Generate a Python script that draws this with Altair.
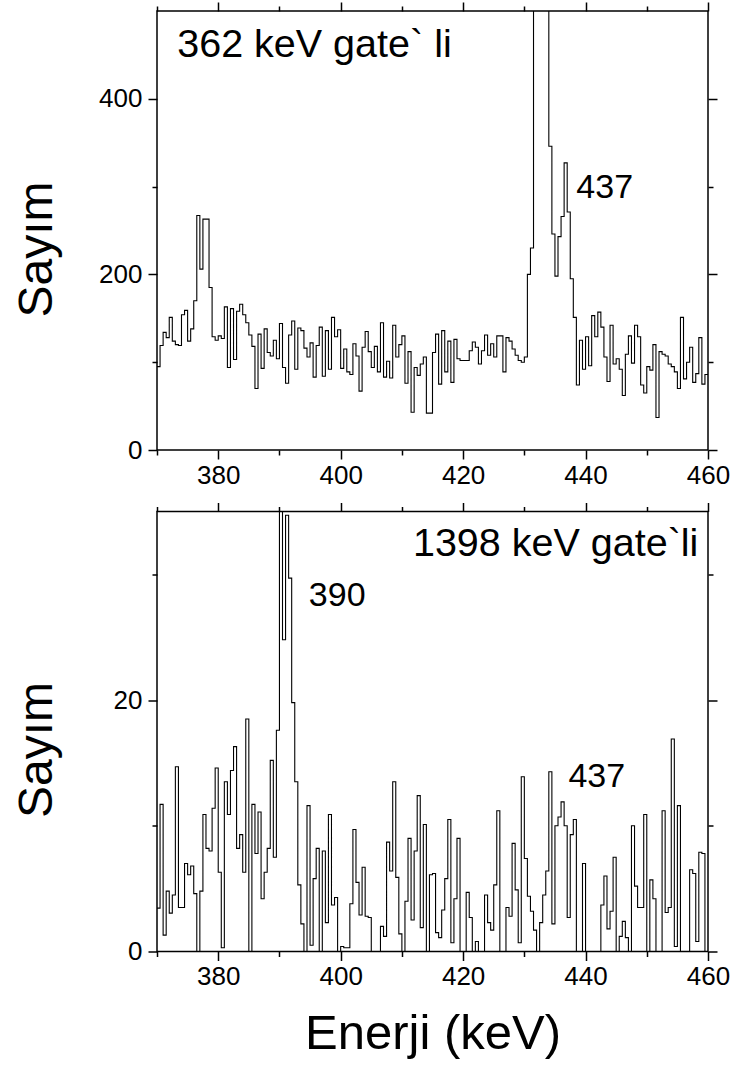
import altair as alt
import pandas as pd

FONT = "Liberation Sans"

# ---- data -------------------------------------------------------------
BIN_START = 370.0
BIN_WIDTH = 0.5

top_counts = [
    95, 119, 134, 128, 151, 124, 120, 119, 154, 159,
    124, 138, 170, 267, 206, 263, 263, 185, 129, 125,
    130, 127, 163, 94, 161, 103, 158, 166, 154, 145,
    131, 118, 70, 132, 93, 138, 111, 107, 125, 104,
    144, 94, 76, 131, 147, 92, 139, 136, 116, 106,
    122, 83, 119, 140, 84, 136, 92, 151, 129, 137,
    93, 115, 89, 86, 121, 107, 67, 117, 135, 112,
    94, 118, 89, 145, 83, 101, 82, 142, 106, 120,
    130, 76, 112, 43, 94, 85, 98, 106, 42, 42,
    111, 132, 75, 136, 89, 124, 77, 126, 104, 102,
    102, 102, 113, 123, 117, 98, 113, 131, 108, 121,
    106, 130, 130, 89, 128, 124, 115, 108, 102, 100,
    106, 200, 230, 650, 1400, 1800, 1200, 700, 346, 246,
    198, 243, 266, 327, 271, 195, 151, 74, 125, 92,
    129, 96, 153, 129, 157, 140, 106, 78, 142, 98,
    104, 92, 62, 109, 130, 99, 142, 129, 74, 65,
    95, 91, 120, 37, 112, 109, 107, 98, 95, 89,
    70, 151, 81, 100, 117, 77, 87, 128, 75, 86,
]

bottom_counts = [
    3.45, 11.7, 1.3, 4.8, 3.05, 4.5, 14.7, 3.5, 3.5, 7.0,
    6.1, 6.8, 4.6, 0, 4.8, 10.9, 8.2, 8.0, 11.4, 14.6,
    6.3, 0.3, 13.5, 10.9, 14.4, 16.3, 8.2, 9.3, 6.3, 18.5,
    0, 11.7, 7.8, 11.1, 4.2, 6.3, 8.2, 15.2, 7.5, 17.6,
    40, 24.8, 34.7, 29.7, 19.8, 13.5, 5.3, 2.2, 0, 11.6,
    0.5, 5.8, 8.2, 0, 8.0, 2.3, 10.9, 3.7, 4.3, 0,
    0.4, 0.3, 0.3, 3.8, 9.7, 5.5, 2.9, 6.7, 2.8, 2.7,
    0, 0, 0, 2.0, 1.2, 8.7, 6.4, 13.5, 5.9, 1.4,
    0, 4.0, 9.0, 2.5, 8.0, 12.4, 1.9, 10.1, 0, 6.1,
    6.2, 1.5, 1.1, 3.3, 5.8, 10.5, 0.7, 4.2, 9.0, 0,
    0, 4.7, 2.7, 0, 0.8, 0, 0, 4.5, 2.3, 1.7,
    5.3, 11.2, 0, 0, 3.5, 2.8, 8.6, 4.9, 0.7, 13.9,
    7.4, 4.4, 3.2, 1.7, 0, 2.3, 4.5, 6.4, 14.3, 2.2,
    10.0, 10.7, 11.9, 10.0, 2.7, 9.3, 10.5, 0, 0, 7.0,
    0, 0, 0, 0, 0, 3.7, 6.0, 1.8, 3.2, 7.5,
    0, 1.2, 2.4, 1.1, 0, 10.0, 5.2, 3.5, 3.5, 10.9,
    0, 5.7, 4.2, 0, 0, 11.2, 3.1, 3.5, 16.9, 0.4,
    11.6, 0, 0, 0, 6.5, 6.2, 0.8, 7.9, 7.8, 0,
]

# annotation texts (energy in keV, count)
top_text = ["362 keV gate` li", "437"]
top_text_x = [373.3, 438.5]
top_text_y = [448, 287]
top_text_size = [39.5, 34]

bottom_text = ["1398 keV gate`li", "390", "437"]
bottom_text_x = [411.8, 394.8, 437.2]
bottom_text_y = [31.5, 27.5, 13.1]
bottom_text_size = [39.5, 34, 34]

x_major = [380, 400, 420, 440, 460]
x_minor = [370, 390, 410, 430, 450]
top_y_major = [0, 200, 400]
top_y_minor = [100, 300]
bottom_y_major = [0, 20]
bottom_y_minor = [10, 30]


def step_frame(counts):
    n = len(counts)
    e = [BIN_START + BIN_WIDTH * i for i in range(n)] + [BIN_START + BIN_WIDTH * n]
    c = list(counts) + [counts[-1]]
    return pd.DataFrame({"E": e, "c": c})


def ax(orient, values, size, labels, **kw):
    return alt.Axis(orient=orient, values=values, tickSize=size, labels=labels,
                    domain=False, grid=False, ticks=True, tickColor="black",
                    tickWidth=1.5, labelFlush=False, labelOverlap=False,
                    labelFont=FONT, labelFontSize=26, labelColor="black", **kw)


def panel(counts, ymax, y_major, y_minor, height, texts, tx, ty, tsize, x_title):
    df = step_frame(counts)
    xs = alt.Scale(domain=[370, 460], nice=False, zero=False)
    ys = alt.Scale(domain=[0, ymax], nice=False)
    base = alt.Chart(df)

    if x_title:
        xkw = dict(title=x_title, titleFont=FONT, titleFontSize=49,
                   titleFontWeight="normal", titleColor="black",
                   titleBaseline="alphabetic", titleY=97)
    else:
        xkw = dict(title=None)

    line = base.mark_line(interpolate="step-after", color="black",
                          strokeWidth=1.1, clip=True).encode(
        x=alt.X("E:Q", scale=xs,
                axis=ax("bottom", x_major, 9, True, labelPadding=3, **xkw)),
        y=alt.Y("c:Q", scale=ys,
                axis=ax("left", y_major, 9, True, labelPadding=6,
                        title="Sayım", titleFont=FONT, titleFontSize=48,
                        titleFontWeight="normal", titleColor="black",
                        titleAngle=270, titleAlign="center",
                        titleBaseline="alphabetic", titleX=-106,
                        titleY=238)),
    )

    def ghost(xo, xv, xsz, yo, yv, ysz):
        return base.mark_line(opacity=0, clip=True).encode(
            x=alt.X("E:Q", scale=xs, axis=ax(xo, xv, xsz, False, title=None)),
            y=alt.Y("c:Q", scale=ys, axis=ax(yo, yv, ysz, False, title=None)),
        )

    g1 = ghost("bottom", x_minor, 5, "left", y_minor, 5)
    g2 = ghost("top", x_major, 9, "right", y_major, 9)
    g3 = ghost("top", x_minor, 5, "right", y_minor, 5)

    tdf = pd.DataFrame({"t": texts, "E": tx, "c": ty, "s": tsize})
    txt = alt.Chart(tdf).mark_text(align="left", baseline="alphabetic",
                                   font=FONT, color="black").encode(
        x=alt.X("E:Q", scale=xs, axis=None),
        y=alt.Y("c:Q", scale=ys, axis=None),
        text="t:N",
        size=alt.Size("s:Q", scale=None, legend=None),
    )

    return alt.layer(line, g1, g2, g3, txt).resolve_axis(
        x="independent", y="independent"
    ).properties(width=551, height=height)


top = panel(top_counts, 500, top_y_major, top_y_minor, 439,
            top_text, top_text_x, top_text_y, top_text_size, None)
bottom = panel(bottom_counts, 35, bottom_y_major, bottom_y_minor, 440,
               bottom_text, bottom_text_x, bottom_text_y, bottom_text_size,
               "Enerji (keV)")

chart = alt.vconcat(top, bottom, spacing=61.5).properties(
    bounds="flush",
    padding={"left": 12, "top": 0, "right": 5, "bottom": 0},
    background="white",
).configure_view(stroke="black", strokeWidth=1.5)

chart.save("out.html", embed_options={"renderer": "svg", "actions": False})
